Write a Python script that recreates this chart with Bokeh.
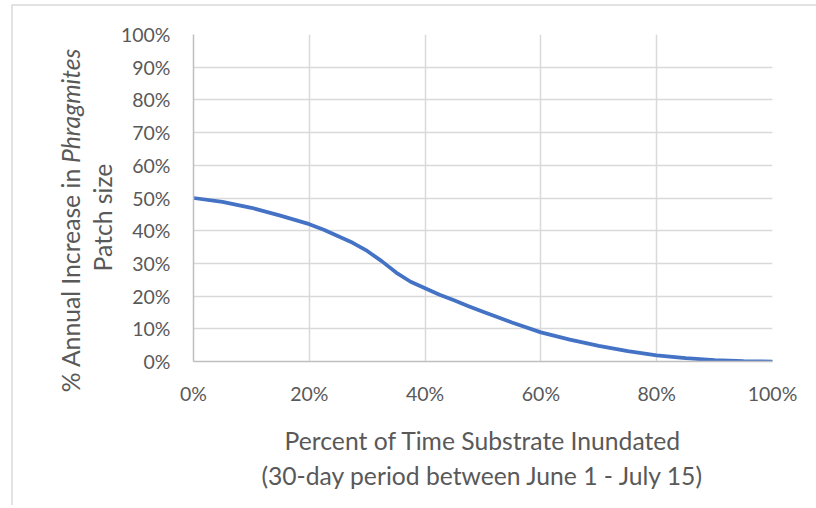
import math
from bokeh.plotting import figure
from bokeh.models import FixedTicker, NumeralTickFormatter, Range1d
from bokeh.core.properties import value
from bokeh.embed import file_html
from bokeh.resources import INLINE

# ---- data ----
inundated = [0.000, 0.050, 0.100, 0.150, 0.200, 0.225, 0.250, 0.275, 0.300, 0.325, 0.350,
             0.375, 0.400, 0.425, 0.450, 0.475, 0.500, 0.550, 0.600, 0.650, 0.700,
             0.750, 0.800, 0.850, 0.900, 0.950, 1.000]
increase = [0.500, 0.488, 0.470, 0.446, 0.420, 0.403, 0.383, 0.363, 0.338, 0.307, 0.272,
            0.244, 0.224, 0.204, 0.187, 0.169, 0.152, 0.119, 0.089, 0.067, 0.048,
            0.032, 0.019, 0.010, 0.004, 0.001, 0.000]
x_ticks = [0.0, 0.2, 0.4, 0.6, 0.8, 1.0]
y_ticks = [0.0, 0.1, 0.2, 0.3, 0.4, 0.5, 0.6, 0.7, 0.8, 0.9, 1.0]
x_title_1 = "Percent of Time Substrate Inundated"
x_title_2 = "(30-day period between June 1 - July 15)"
y_title_1a = "% Annual Increase in"
y_title_1b = "Phragmites"
y_title_2 = "Patch size"

TEXT = "#595959"
GRID = "#D9D9D9"
FONT = "Lato"
TICK_SIZE = "19.5px"
TITLE_SIZE = "24.7px"
W, H = 816, 505

# ---- main chart ----
p = figure(width=W, height=H, x_range=Range1d(0, 1), y_range=Range1d(0, 1),
           output_backend="svg", toolbar_location=None,
           min_border_left=193, min_border_right=44, min_border_top=34, min_border_bottom=144)
p.background_fill_color = "white"
p.border_fill_color = "white"
p.outline_line_color = None

p.xgrid.ticker = FixedTicker(ticks=x_ticks)
p.ygrid.ticker = FixedTicker(ticks=y_ticks)
for g in (p.xgrid, p.ygrid):
    g.grid_line_color = GRID
    g.grid_line_width = 1.5

p.xaxis.ticker = FixedTicker(ticks=x_ticks)
p.yaxis.ticker = FixedTicker(ticks=y_ticks)
for ax in (p.xaxis, p.yaxis):
    ax.formatter = NumeralTickFormatter(format="0%")
    ax.axis_line_color = "#BFBFBF"
    ax.axis_line_width = 1.5
    ax.major_tick_line_color = None
    ax.minor_tick_line_color = None
    ax.major_tick_in = 0
    ax.major_tick_out = 0
    ax.minor_tick_in = 0
    ax.minor_tick_out = 0
    ax.major_label_text_font = FONT
    ax.major_label_text_font_size = TICK_SIZE
    ax.major_label_text_color = TEXT
p.xaxis.major_label_standoff = 20
p.yaxis.major_label_standoff = 23

p.line(inundated, increase, line_color="#4472C4", line_width=3.75,
       line_cap="round", line_join="round")

# ---- transparent overlay (data units = page pixels): titles and chart border ----
ov = figure(width=W, height=H, x_range=Range1d(0, W), y_range=Range1d(H, 0),
            output_backend="svg", toolbar_location=None, min_border=0,
            x_axis_location=None, y_axis_location=None)
ov.styles = {"position": "absolute", "left": "0px", "top": "0px"}
ov.grid.visible = False
ov.outline_line_color = None
ov.background_fill_alpha = 0
ov.border_fill_alpha = 0

ov.segment(x0=[11, 11.5], y0=[4.5, 4.5], x1=[W, 11.5], y1=[4.5, H],
           line_color=GRID, line_width=1.5)

ov.text(x=[70], y=[167.5], text=[y_title_1a], angle=math.pi / 2,
        text_align="right", text_baseline="alphabetic",
        text_font=value(FONT), text_font_size=value(TITLE_SIZE), text_color=TEXT)
ov.text(x=[70], y=[162.5], text=[y_title_1b], angle=math.pi / 2,
        text_align="left", text_baseline="alphabetic", text_font_style="italic",
        text_font=value(FONT), text_font_size=value(TITLE_SIZE), text_color=TEXT)
ov.text(x=[102], y=[217], text=[y_title_2], angle=math.pi / 2,
        text_align="center", text_baseline="alphabetic",
        text_font=value(FONT), text_font_size=value(TITLE_SIZE), text_color=TEXT)
ov.text(x=[482.5, 482.5], y=[440, 475], text=[x_title_1, x_title_2],
        text_align="center", text_baseline="alphabetic",
        text_font=value(FONT), text_font_size=value(TITLE_SIZE), text_color=TEXT)

open("out.html", "w").write(file_html([p, ov], INLINE))
